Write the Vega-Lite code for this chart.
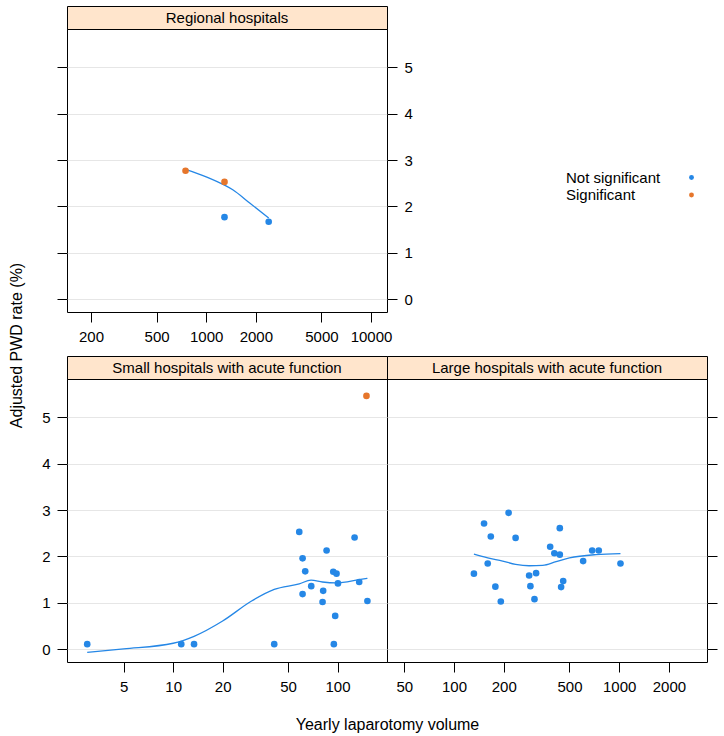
{
  "$schema": "https://vega.github.io/schema/vega-lite/v6.json",
  "padding": {"left": 7, "top": 5, "right": 0, "bottom": 0},
  "config": {
    "font": "Liberation Sans",
    "view": {"stroke": "black", "strokeWidth": 1},
    "axis": {"labelFont": "Liberation Sans", "labelFontSize": 15, "labelColor": "black", "titleFont": "Liberation Sans", "titleFontSize": 16, "titleFontWeight": "normal", "titleColor": "black", "tickColor": "black", "tickSize": 10, "domain": false, "labelOverlap": false, "labelFlush": false, "labelBound": false, "labelPadding": 7, "gridColor": "#e6e6e6", "gridWidth": 1.2},
    "legend": {"labelFont": "Liberation Sans"}
  },
  "datasets": {
    "strips": [
      {"group": "Regional hospitals"},
      {"group": "Small hospitals with acute function"},
      {"group": "Large hospitals with acute function"}
    ],
    "points": [
      {"group": "Regional hospitals", "volume": 749, "rate": 2.77, "significance": "Significant"},
      {"group": "Regional hospitals", "volume": 1291, "rate": 2.53, "significance": "Significant"},
      {"group": "Regional hospitals", "volume": 1291, "rate": 1.77, "significance": "Not significant"},
      {"group": "Regional hospitals", "volume": 2394, "rate": 1.67, "significance": "Not significant"},
      {"group": "Small", "volume": 3.0, "rate": 0.11, "significance": "Not significant"},
      {"group": "Small", "volume": 11.2, "rate": 0.11, "significance": "Not significant"},
      {"group": "Small", "volume": 13.4, "rate": 0.11, "significance": "Not significant"},
      {"group": "Small", "volume": 41.2, "rate": 0.11, "significance": "Not significant"},
      {"group": "Small", "volume": 95, "rate": 0.11, "significance": "Not significant"},
      {"group": "Small", "volume": 58.5, "rate": 2.53, "significance": "Not significant"},
      {"group": "Small", "volume": 61.3, "rate": 1.96, "significance": "Not significant"},
      {"group": "Small", "volume": 63.6, "rate": 1.68, "significance": "Not significant"},
      {"group": "Small", "volume": 61.3, "rate": 1.19, "significance": "Not significant"},
      {"group": "Small", "volume": 69.2, "rate": 1.36, "significance": "Not significant"},
      {"group": "Small", "volume": 85.8, "rate": 2.13, "significance": "Not significant"},
      {"group": "Small", "volume": 94.2, "rate": 1.67, "significance": "Not significant"},
      {"group": "Small", "volume": 98.6, "rate": 1.63, "significance": "Not significant"},
      {"group": "Small", "volume": 100.6, "rate": 1.42, "significance": "Not significant"},
      {"group": "Small", "volume": 81.8, "rate": 1.26, "significance": "Not significant"},
      {"group": "Small", "volume": 81.1, "rate": 1.02, "significance": "Not significant"},
      {"group": "Small", "volume": 96.8, "rate": 0.72, "significance": "Not significant"},
      {"group": "Small", "volume": 127, "rate": 2.41, "significance": "Not significant"},
      {"group": "Small", "volume": 135.5, "rate": 1.45, "significance": "Not significant"},
      {"group": "Small", "volume": 152, "rate": 1.04, "significance": "Not significant"},
      {"group": "Small", "volume": 150, "rate": 5.46, "significance": "Significant"},
      {"group": "Large", "volume": 132, "rate": 1.63, "significance": "Not significant"},
      {"group": "Large", "volume": 152, "rate": 2.71, "significance": "Not significant"},
      {"group": "Large", "volume": 167, "rate": 2.43, "significance": "Not significant"},
      {"group": "Large", "volume": 160, "rate": 1.85, "significance": "Not significant"},
      {"group": "Large", "volume": 178, "rate": 1.35, "significance": "Not significant"},
      {"group": "Large", "volume": 192, "rate": 1.03, "significance": "Not significant"},
      {"group": "Large", "volume": 214, "rate": 2.94, "significance": "Not significant"},
      {"group": "Large", "volume": 236, "rate": 2.40, "significance": "Not significant"},
      {"group": "Large", "volume": 285, "rate": 1.59, "significance": "Not significant"},
      {"group": "Large", "volume": 314, "rate": 1.64, "significance": "Not significant"},
      {"group": "Large", "volume": 290, "rate": 1.36, "significance": "Not significant"},
      {"group": "Large", "volume": 307, "rate": 1.08, "significance": "Not significant"},
      {"group": "Large", "volume": 382, "rate": 2.21, "significance": "Not significant"},
      {"group": "Large", "volume": 405, "rate": 2.07, "significance": "Not significant"},
      {"group": "Large", "volume": 437, "rate": 2.04, "significance": "Not significant"},
      {"group": "Large", "volume": 437, "rate": 2.61, "significance": "Not significant"},
      {"group": "Large", "volume": 458, "rate": 1.47, "significance": "Not significant"},
      {"group": "Large", "volume": 445, "rate": 1.34, "significance": "Not significant"},
      {"group": "Large", "volume": 605, "rate": 1.90, "significance": "Not significant"},
      {"group": "Large", "volume": 686, "rate": 2.13, "significance": "Not significant"},
      {"group": "Large", "volume": 752, "rate": 2.13, "significance": "Not significant"},
      {"group": "Large", "volume": 1018, "rate": 1.85, "significance": "Not significant"}
    ],
    "loess": [
      {"group": "Regional hospitals", "volume": 749, "rate": 2.80},
      {"group": "Regional hospitals", "volume": 1000, "rate": 2.64},
      {"group": "Regional hospitals", "volume": 1291, "rate": 2.46},
      {"group": "Regional hospitals", "volume": 1449, "rate": 2.36},
      {"group": "Regional hospitals", "volume": 1828, "rate": 2.08},
      {"group": "Regional hospitals", "volume": 2394, "rate": 1.75},
      {"group": "Small", "volume": 3.0, "rate": -0.065},
      {"group": "Small", "volume": 5, "rate": 0.01},
      {"group": "Small", "volume": 10, "rate": 0.13},
      {"group": "Small", "volume": 13.4, "rate": 0.28},
      {"group": "Small", "volume": 20, "rate": 0.61},
      {"group": "Small", "volume": 30, "rate": 1.04},
      {"group": "Small", "volume": 41.2, "rate": 1.29},
      {"group": "Small", "volume": 58.5, "rate": 1.41},
      {"group": "Small", "volume": 69, "rate": 1.49},
      {"group": "Small", "volume": 81, "rate": 1.45},
      {"group": "Small", "volume": 98, "rate": 1.43},
      {"group": "Small", "volume": 135, "rate": 1.50},
      {"group": "Small", "volume": 152, "rate": 1.53},
      {"group": "Large", "volume": 132, "rate": 2.05},
      {"group": "Large", "volume": 160, "rate": 1.97},
      {"group": "Large", "volume": 197, "rate": 1.90},
      {"group": "Large", "volume": 236, "rate": 1.83},
      {"group": "Large", "volume": 285, "rate": 1.80},
      {"group": "Large", "volume": 344, "rate": 1.81},
      {"group": "Large", "volume": 415, "rate": 1.89},
      {"group": "Large", "volume": 500, "rate": 1.97},
      {"group": "Large", "volume": 725, "rate": 2.04},
      {"group": "Large", "volume": 1018, "rate": 2.06}
    ]
  },
  "columns": 2,
  "spacing": {"row": 0, "column": 0},
  "bounds": "flush",
  "align": "each",
  "concat": [
    {
      "width": 320, "height": 23,
      "view": {"fill": "#ffe5cc", "stroke": "black"},
      "data": {"name": "strips"},
      "transform": [{"filter": "datum.group === 'Regional hospitals'"}],
      "mark": {"type": "text", "fontSize": 15, "font": "Liberation Sans", "color": "black"},
      "encoding": {"text": {"field": "group"}}
    },
    {
      "width": 320, "height": 23,
      "view": {"stroke": null},
      "data": {"values": []},
      "mark": "text"
    },
    {
      "width": 320, "height": 283,
      "layer": [
        {
          "data": {"name": "loess"},
          "transform": [{"filter": "datum.group === 'Regional hospitals'"}],
          "mark": {"type": "line", "color": "#2587e6", "strokeWidth": 1.3, "interpolate": "monotone"},
          "encoding": {
            "x": {"field": "volume", "type": "quantitative", "scale": {"type": "log", "domain": [143, 12500], "nice": false}, "axis": {"values": [200, 500, 1000, 2000, 5000, 10000], "format": "d", "title": null, "grid": false}},
            "y": {"field": "rate", "type": "quantitative", "scale": {"domain": [-0.274, 5.825], "nice": false, "zero": false}, "axis": {"orient": "left", "values": [0, 1, 2, 3, 4, 5], "labels": false, "title": null, "grid": true}}
          }
        },
        {
          "data": {"name": "points"},
          "transform": [{"filter": "datum.group === 'Regional hospitals'"}],
          "mark": {"type": "circle", "size": 44, "opacity": 1},
          "encoding": {
            "x": {"field": "volume", "type": "quantitative", "scale": {"type": "log", "domain": [143, 12500], "nice": false}, "axis": {"values": [200, 500, 1000, 2000, 5000, 10000], "format": "d", "title": null, "grid": false}},
            "y": {"field": "rate", "type": "quantitative", "scale": {"domain": [-0.274, 5.825], "nice": false, "zero": false}, "axis": {"orient": "right", "values": [0, 1, 2, 3, 4, 5], "title": null, "grid": false}},
            "color": {"field": "significance", "type": "nominal", "scale": {"domain": ["Not significant", "Significant"], "range": ["#2587e6", "#e6762b"]}, "legend": {"title": null, "orient": "none", "legendX": 498, "legendY": 164, "labelFontSize": 15, "labelColor": "black", "symbolType": "circle", "symbolSize": 24, "symbolOffset": 119, "labelOffset": -133, "rowPadding": 1.5}}
          }
        }
      ],
      "resolve": {"scale": {"y": "independent"}}
    },
    {
      "width": 320, "height": 283,
      "view": {"stroke": null},
      "data": {"values": []},
      "mark": "text"
    },
    {
      "width": 320, "height": 44,
      "view": {"stroke": null},
      "data": {"values": []},
      "mark": "text"
    },
    {
      "width": 320, "height": 44,
      "view": {"stroke": null},
      "data": {"values": []},
      "mark": "text"
    },
    {
      "width": 320, "height": 23,
      "view": {"fill": "#ffe5cc", "stroke": "black"},
      "data": {"name": "strips"},
      "transform": [{"filter": "datum.group === 'Small hospitals with acute function'"}],
      "mark": {"type": "text", "fontSize": 15, "font": "Liberation Sans", "color": "black"},
      "encoding": {"text": {"field": "group"}}
    },
    {
      "width": 320, "height": 23,
      "view": {"fill": "#ffe5cc", "stroke": "black"},
      "data": {"name": "strips"},
      "transform": [{"filter": "datum.group === 'Large hospitals with acute function'"}],
      "mark": {"type": "text", "fontSize": 15, "font": "Liberation Sans", "color": "black"},
      "encoding": {"text": {"field": "group"}}
    },
    {
      "width": 320, "height": 283,
      "layer": [
        {
          "data": {"name": "loess"},
          "transform": [{"filter": "datum.group === 'Small'"}],
          "mark": {"type": "line", "color": "#2587e6", "strokeWidth": 1.3, "interpolate": "monotone"},
          "encoding": {
            "x": {"field": "volume", "type": "quantitative", "scale": {"type": "log", "domain": [2.26, 200], "nice": false}, "axis": {"values": [5, 10, 20, 50, 100], "format": "d", "title": "Yearly laparotomy volume", "titleX": 320, "titleY": 62, "titleAlign": "center", "titleBaseline": "middle", "grid": false}},
            "y": {"field": "rate", "type": "quantitative", "scale": {"domain": [-0.274, 5.825], "nice": false, "zero": false}, "axis": {"orient": "left", "values": [0, 1, 2, 3, 4, 5], "title": "Adjusted PWD rate (%)", "titleX": -51, "titleY": -34, "titleAngle": 270, "titleAlign": "center", "titleBaseline": "middle", "grid": true}}
          }
        },
        {
          "data": {"name": "points"},
          "transform": [{"filter": "datum.group === 'Small'"}],
          "mark": {"type": "circle", "size": 44, "opacity": 1},
          "encoding": {
            "x": {"field": "volume", "type": "quantitative", "scale": {"type": "log", "domain": [2.26, 200], "nice": false}, "axis": {"values": [5, 10, 20, 50, 100], "format": "d", "title": "Yearly laparotomy volume", "titleX": 320, "titleY": 62, "titleAlign": "center", "titleBaseline": "middle", "grid": false}},
            "y": {"field": "rate", "type": "quantitative", "scale": {"domain": [-0.274, 5.825], "nice": false, "zero": false}, "axis": {"orient": "left", "values": [0, 1, 2, 3, 4, 5], "title": "Adjusted PWD rate (%)", "titleX": -51, "titleY": -34, "titleAngle": 270, "titleAlign": "center", "titleBaseline": "middle", "grid": true}},
            "color": {"field": "significance", "type": "nominal", "scale": {"domain": ["Not significant", "Significant"], "range": ["#2587e6", "#e6762b"]}, "legend": {"title": null, "orient": "none", "legendX": 498, "legendY": 164, "labelFontSize": 15, "labelColor": "black", "symbolType": "circle", "symbolSize": 24, "symbolOffset": 119, "labelOffset": -133, "rowPadding": 1.5}}
          }
        }
      ]
    },
    {
      "width": 320, "height": 283,
      "layer": [
        {
          "data": {"name": "loess"},
          "transform": [{"filter": "datum.group === 'Large'"}],
          "mark": {"type": "line", "color": "#2587e6", "strokeWidth": 1.3, "interpolate": "monotone"},
          "encoding": {
            "x": {"field": "volume", "type": "quantitative", "scale": {"type": "log", "domain": [39.3, 3400], "nice": false}, "axis": {"values": [50, 100, 200, 500, 1000, 2000], "format": "d", "title": null, "grid": false}},
            "y": {"field": "rate", "type": "quantitative", "scale": {"domain": [-0.274, 5.825], "nice": false, "zero": false}, "axis": {"orient": "right", "values": [0, 1, 2, 3, 4, 5], "labels": false, "title": null, "grid": true}}
          }
        },
        {
          "data": {"name": "points"},
          "transform": [{"filter": "datum.group === 'Large'"}],
          "mark": {"type": "circle", "size": 44, "opacity": 1},
          "encoding": {
            "x": {"field": "volume", "type": "quantitative", "scale": {"type": "log", "domain": [39.3, 3400], "nice": false}, "axis": {"values": [50, 100, 200, 500, 1000, 2000], "format": "d", "title": null, "grid": false}},
            "y": {"field": "rate", "type": "quantitative", "scale": {"domain": [-0.274, 5.825], "nice": false, "zero": false}, "axis": {"orient": "right", "values": [0, 1, 2, 3, 4, 5], "labels": false, "title": null, "grid": true}},
            "color": {"field": "significance", "type": "nominal", "scale": {"domain": ["Not significant", "Significant"], "range": ["#2587e6", "#e6762b"]}, "legend": {"title": null, "orient": "none", "legendX": 498, "legendY": 164, "labelFontSize": 15, "labelColor": "black", "symbolType": "circle", "symbolSize": 24, "symbolOffset": 119, "labelOffset": -133, "rowPadding": 1.5}}
          }
        }
      ]
    }
  ]
}
